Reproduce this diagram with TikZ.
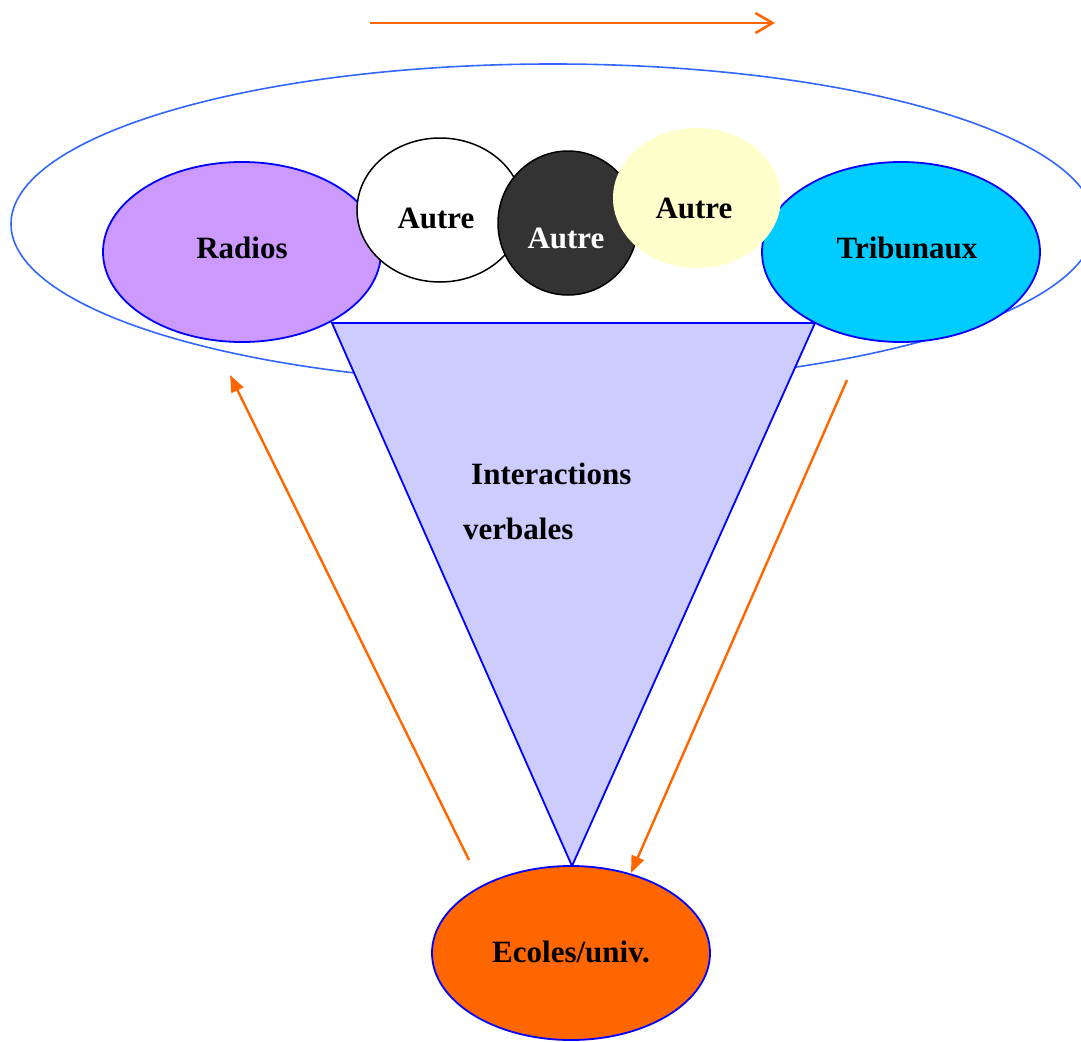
\documentclass[tikz,border=0pt]{standalone}
\usepackage{fontspec}
\setmainfont{Liberation Serif}
\usetikzlibrary{shapes.geometric,arrows.meta}
\definecolor{bigblue}{HTML}{3366FF}
\definecolor{edgeblue}{HTML}{0000FF}
\definecolor{radiosfill}{HTML}{CC99FF}
\definecolor{tribfill}{HTML}{00CCFF}
\definecolor{trifill}{HTML}{CCCCFF}
\definecolor{darkfill}{HTML}{333333}
\definecolor{yelfill}{HTML}{FFFFCC}
\definecolor{orangec}{HTML}{FF6600}
\begin{document}
\begin{tikzpicture}[x=1pt,y=-1pt,
  blob/.style={ellipse, inner sep=0pt, line width=1.8pt},
  lbl/.style={font=\fontsize{31}{37}\selectfont\bfseries, inner sep=0pt},
  oarrow/.style={draw=orangec, line width=2.4pt, -{Triangle[length=17pt,width=13pt]}}
]
\useasboundingbox (0,0) rectangle (1081,1041);
% big ellipse
\node[ellipse, draw=bigblue, line width=1.6pt, minimum width=1084pt, minimum height=320pt, inner sep=0pt] (big) at (553,224) {};
% top arrow
\coordinate (ta) at (370,23);
\coordinate (tb) at (775,23);
\draw[orangec, line width=2.4pt, -{Straight Barb[length=17pt,width=20pt,line width=2.6pt]}] (ta) -- (tb);
% triangle
\coordinate (t1) at (332,323);
\coordinate (t2) at (815,323);
\coordinate (t3) at (572,866);
\draw[edgeblue, line width=1.8pt, fill=trifill, line join=miter] (t1) -- (t2) -- (t3) -- cycle;
% Radios
\node[blob, draw=edgeblue, fill=radiosfill, minimum width=278pt, minimum height=180pt] (radios) at (242,252) {};
\node[lbl] (radiosl) at (242,248) {Radios};
% Tribunaux
\node[blob, draw=edgeblue, fill=tribfill, minimum width=278pt, minimum height=180pt] (trib) at (901,252) {};
\node[lbl] (tribl) at (907,248) {Tribunaux};
% Autre circles
\node[blob, draw=black, line width=1.5pt, fill=white, minimum width=166pt, minimum height=144pt] (a1) at (440,210) {};
\node[lbl] (a1l) at (436,218) {Autre};
\node[blob, draw=black, line width=1.5pt, fill=darkfill, minimum width=140pt, minimum height=144pt] (a2) at (568,223) {};
\node[lbl, text=white] (a2l) at (566,238) {Autre};
\node[blob, draw=none, fill=yelfill, minimum width=168pt, minimum height=140pt] (a3) at (697,198) {};
\node[lbl] (a3l) at (694,208) {Autre};
% Interactions text
\node[lbl, anchor=west] (int1) at (471,474) {Interactions};
\node[lbl, anchor=west] (int2) at (463,529) {verbales};
% Ecoles
\node[blob, draw=edgeblue, fill=orangec, minimum width=278pt, minimum height=174pt] (ecoles) at (571,953) {};
\node[lbl] (ecolesl) at (571,952) {Ecoles/univ.};
% orange arrows
\coordinate (l1) at (469,860);
\coordinate (l2) at (230,375);
\draw[oarrow] (l1) -- (l2);
\coordinate (r1) at (847,380);
\coordinate (r2) at (631,873);
\draw[oarrow] (r1) -- (r2);
\end{tikzpicture}
\end{document}
